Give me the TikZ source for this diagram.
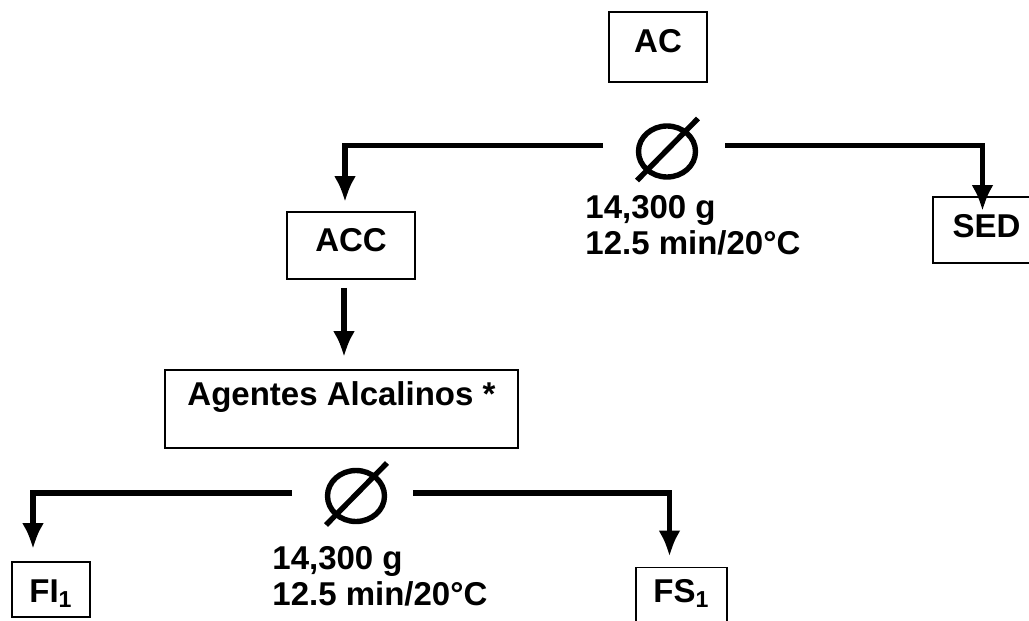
\documentclass[tikz,border=0pt]{standalone}
\usepackage{fontspec}
\setmainfont{Liberation Sans}
\usetikzlibrary{positioning,arrows.meta,calc,shapes.geometric}
\tikzset{>={Latex[length=13pt,width=11pt]}}
\tikzset{mybox/.style={draw,line width=0.9pt,inner sep=0pt,font=\fontsize{16.5}{18}\selectfont\bfseries}}
\tikzset{mysplit/.style={ellipse,draw,line width=2.7pt,minimum width=28.5pt,minimum height=25.5pt,inner sep=0pt}}
\tikzset{mylabel/.style={anchor=north west,inner sep=0pt,align=left,font=\fontsize{16.5}{18}\selectfont\bfseries}}
\tikzset{myedges/.style={line width=2.9pt}}

\begin{document}
\begin{tikzpicture}[x=0.5pt,y=-0.5pt]
    \useasboundingbox (0,0) rectangle (1029,621);

    % boxes
    \node[mybox, minimum width=49pt,   text height=20.5pt, text depth=14.5pt] (ac)      at (658,47)    {AC};
    \node[mybox, minimum width=64pt,   text height=19.5pt, text depth=14pt]   (acc)     at (351,245.5) {ACC};
    \node[mybox, minimum width=53.5pt, text height=20pt,   text depth=13pt]   (sed)     at (986.5,230) {SED};
    \node[mybox, minimum width=176.5pt,text height=17.5pt, text depth=21.5pt] (agentes) at (341.5,409) {Agentes Alcalinos *};
    \node[mybox, minimum width=39pt,   text height=20pt,   text depth=7.5pt]  (fi)      at (51,589.5)  {FI\textsubscript{1}};
    \node[mybox, minimum width=45.5pt, text height=17.5pt, text depth=15pt]   (fs)      at (681.5,600) {FS\textsubscript{1}};

    % centrifugation
    \node[mysplit] (c1) at (667,151.5) {};
    \node[mysplit] (c2) at (356,496) {};
    \foreach \c in {c1,c2} {
        \draw[line width=2.7pt] ($(\c.center)+(-30,29)$) -- ($(\c.center)+(31,-33)$);
    }
    \node[mylabel] (t1) at (585,195) {14,300 g\\12.5 min/20°C};
    \node[mylabel] (t2) at (272,546) {14,300 g\\12.5 min/20°C};

    \draw[myedges,->] ($(c1.center)+(-64,-6)$) -| ($(acc.north)+(-6,-9)$);
    \draw[myedges,->] ($(c1.center)+(58,-6)$) -| ($(sed.north)+(-4,15)$);
    \draw[myedges,->] ($(acc.south)+(-7,8)$) -- ($(acc.south |- agentes.north)+(-7,-12)$);
    \draw[myedges,->] ($(c2.center)+(-64,-3)$) -| ($(fi.north)+(-18,-12)$);
    \draw[myedges,->] ($(c2.center)+(57,-3)$) -| ($(fs.north)+(-12,-10)$);
\end{tikzpicture}
\end{document}
